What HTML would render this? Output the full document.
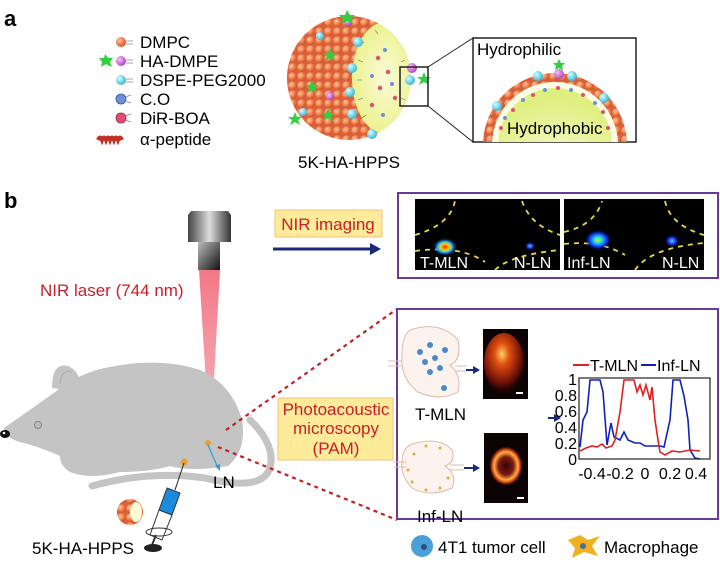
<!DOCTYPE html>
<html><head><meta charset="utf-8"><style>
html,body{margin:0;padding:0;background:#fff;}
svg{display:block;font-family:"Liberation Sans",Arial,sans-serif;}
</style></head><body>
<svg width="720" height="568" viewBox="0 0 720 568" xmlns="http://www.w3.org/2000/svg">
<defs>
<radialGradient id="ob" cx="0.35" cy="0.35" r="0.7"><stop offset="0" stop-color="#ffc7a0"/><stop offset="0.6" stop-color="#f07a45"/><stop offset="1" stop-color="#c8502a"/></radialGradient>
<radialGradient id="cy" cx="0.35" cy="0.35" r="0.7"><stop offset="0" stop-color="#d8fbff"/><stop offset="1" stop-color="#30b8d0"/></radialGradient>
<radialGradient id="pk" cx="0.35" cy="0.35" r="0.7"><stop offset="0" stop-color="#f4c0f8"/><stop offset="1" stop-color="#b040c0"/></radialGradient>
<radialGradient id="yl" cx="0.5" cy="0.5" r="0.6"><stop offset="0" stop-color="#fbfbd8"/><stop offset="1" stop-color="#e8f080"/></radialGradient>
<radialGradient id="yl2" cx="0.5" cy="0.8" r="0.7"><stop offset="0" stop-color="#fafae0"/><stop offset="1" stop-color="#dff080"/></radialGradient>
<pattern id="balls" width="9" height="9" patternUnits="userSpaceOnUse"><rect width="9" height="9" fill="#d9603a"/><circle cx="4.5" cy="4.5" r="4.3" fill="url(#ob)"/></pattern>
<radialGradient id="glow1" cx="0.5" cy="0.5" r="0.5"><stop offset="0" stop-color="#ff2000"/><stop offset="0.35" stop-color="#ffd000"/><stop offset="0.6" stop-color="#20c0ff"/><stop offset="1" stop-color="#0010a0" stop-opacity="0"/></radialGradient>
<radialGradient id="glow2" cx="0.5" cy="0.5" r="0.5"><stop offset="0" stop-color="#e0f000"/><stop offset="0.3" stop-color="#20e0e0"/><stop offset="0.65" stop-color="#1040ff"/><stop offset="1" stop-color="#0010a0" stop-opacity="0"/></radialGradient>
<radialGradient id="glow3" cx="0.5" cy="0.5" r="0.5"><stop offset="0" stop-color="#60c0ff"/><stop offset="0.6" stop-color="#1030e0"/><stop offset="1" stop-color="#0010a0" stop-opacity="0"/></radialGradient>
<radialGradient id="pa1" cx="0.45" cy="0.35" r="0.6"><stop offset="0" stop-color="#ffd060"/><stop offset="0.3" stop-color="#e05010"/><stop offset="0.8" stop-color="#701008"/><stop offset="1" stop-color="#200404"/></radialGradient>
<radialGradient id="pa2" cx="0.5" cy="0.5" r="0.5"><stop offset="0" stop-color="#300808"/><stop offset="0.45" stop-color="#801810"/><stop offset="0.7" stop-color="#ffb040"/><stop offset="0.85" stop-color="#c03010"/><stop offset="1" stop-color="#101010" stop-opacity="0"/></radialGradient>
<linearGradient id="cam" x1="0" x2="1"><stop offset="0" stop-color="#444"/><stop offset="0.5" stop-color="#ddd"/><stop offset="1" stop-color="#333"/></linearGradient>
<linearGradient id="cam2" x1="0" y1="0" x2="1" y2="1"><stop offset="0" stop-color="#bbb"/><stop offset="1" stop-color="#111"/></linearGradient>
<linearGradient id="beam" x1="0" y1="0" x2="0" y2="1"><stop offset="0" stop-color="#f06070"/><stop offset="1" stop-color="#f08090" stop-opacity="0.7"/></linearGradient>
<clipPath id="sph"><circle cx="349" cy="78" r="62"/></clipPath>
<clipPath id="zbox"><rect x="473" y="38" width="163" height="104"/></clipPath>
</defs>

<text x="4" y="26" font-size="22" font-weight="bold">a</text>
<g font-size="17">
<circle cx="121" cy="42" r="5" fill="url(#ob)"/><path d="M126 41h7M126 44h7" stroke="#888" stroke-width="0.8"/>
<text x="140" y="48">DMPC</text>
<polygon points="105,54 108,58 113,58 110,62 112,67 106,64 101,67 102,62 99,58 104,58" fill="#30d040"/>
<circle cx="121" cy="61" r="5" fill="url(#pk)"/><path d="M126 60h7M126 63h7" stroke="#888" stroke-width="0.8"/>
<text x="140" y="67">HA-DMPE</text>
<circle cx="121" cy="80" r="5" fill="url(#cy)"/><path d="M126 79h7M126 82h7" stroke="#888" stroke-width="0.8"/>
<text x="140" y="86">DSPE-PEG2000</text>
<circle cx="121" cy="99" r="5" fill="#6a90d8" stroke="#3050a0" stroke-width="0.8"/><path d="M125 97l6-2M125 101l6 2" stroke="#888" stroke-width="0.8"/>
<text x="140" y="105">C.O</text>
<circle cx="121" cy="118" r="5" fill="#e05070" stroke="#a02040" stroke-width="0.8"/><path d="M125 116l6-2M125 120l6 2" stroke="#888" stroke-width="0.8"/>
<text x="140" y="124">DiR-BOA</text>
<path d="M98 140 q2-5 4 0 q2-5 4 0 q2-5 4 0 q2-5 4 0 q2-5 4 0 q2-5 4 0" stroke="#c03020" stroke-width="4" fill="none"/>
<text x="140" y="145">α-peptide</text>
</g>

<g clip-path="url(#sph)">
<rect x="280" y="10" width="140" height="140" fill="url(#balls)"/>
<ellipse cx="385" cy="78" rx="33" ry="56" fill="url(#yl)"/>
<g stroke="#666" stroke-width="0.6">
<path d="M360 40l4 3M358 60l5 2M357 80h5M358 100l5-2M362 118l4-3M375 30l3 4M395 30l-2 4M405 60l-4 2M405 100l-4-2"/>
</g>
<g fill="#e05070"><circle cx="378" cy="58" r="2.2"/><circle cx="388" cy="72" r="2.2"/><circle cx="380" cy="88" r="2.2"/><circle cx="395" cy="98" r="2.2"/><circle cx="372" cy="105" r="2.2"/></g>
<g fill="#6a90d8"><circle cx="385" cy="50" r="2"/><circle cx="372" cy="76" r="2"/><circle cx="392" cy="84" r="2"/><circle cx="383" cy="115" r="2"/></g>
</g>
<g fill="url(#cy)"><circle cx="358" cy="42" r="5"/><circle cx="352" cy="68" r="5"/><circle cx="350" cy="92" r="5"/><circle cx="352" cy="114" r="5"/><circle cx="410" cy="80" r="5"/><circle cx="372" cy="134" r="5"/><circle cx="320" cy="36" r="4"/><circle cx="303" cy="112" r="4"/></g>
<g fill="url(#pk)"><circle cx="412" cy="68" r="5"/><circle cx="348" cy="22" r="4"/><circle cx="330" cy="96" r="4"/></g>
<g fill="#30d040">
<polygon points="347,10 350,15 355,15 351,19 353,24 347,21 342,24 343,19 339,15 345,15"/>
<polygon points="424,72 426,77 431,77 427,80 429,85 424,82 419,85 421,80 417,77 422,77"/>
<polygon points="295,112 297,117 302,117 298,120 300,125 295,122 290,125 292,120 288,117 293,117"/>
<polygon points="328,108 330,113 335,113 331,116 333,121 328,118 323,121 325,116 321,113 326,113"/>
<polygon points="330,48 332,53 337,53 333,56 335,61 330,58 325,61 327,56 323,53 328,53"/>
<polygon points="312,80 314,85 319,85 315,88 317,93 312,90 307,93 309,88 305,85 310,85"/>
</g>
<text x="298" y="168" font-size="17">5K-HA-HPPS</text>

<rect x="400" y="67" width="28" height="39" fill="none" stroke="#222" stroke-width="1.5"/>
<line x1="428" y1="67" x2="473" y2="38" stroke="#222" stroke-width="1"/>
<line x1="428" y1="106" x2="473" y2="142" stroke="#222" stroke-width="1"/>
<rect x="473" y="38" width="163" height="104" fill="#fff" stroke="#222" stroke-width="1.5"/>
<g clip-path="url(#zbox)">
<circle cx="555" cy="145" r="72" fill="url(#balls)"/>
<circle cx="555" cy="145" r="63" fill="#fdfde8"/>
<circle cx="555" cy="145" r="57" fill="url(#yl2)"/>
<g fill="#e05070"><circle cx="513" cy="110" r="2"/><circle cx="533" cy="95" r="2"/><circle cx="558" cy="88" r="2"/><circle cx="583" cy="95" r="2"/><circle cx="603" cy="112" r="2"/><circle cx="501" cy="128" r="2"/><circle cx="608" cy="128" r="2"/></g>
<g fill="#6a90d8"><circle cx="523" cy="100" r="2"/><circle cx="545" cy="90" r="2"/><circle cx="571" cy="90" r="2"/><circle cx="595" cy="103" r="2"/><circle cx="505" cy="118" r="2"/></g>
<g fill="url(#cy)"><circle cx="538" cy="76" r="5"/><circle cx="497" cy="106" r="5"/><circle cx="572" cy="76" r="5"/><circle cx="604" cy="98" r="5"/></g>
<circle cx="559" cy="74" r="5" fill="url(#pk)"/>
</g>
<polygon points="559,59 561,63 565,63 562,66 563,70 559,68 555,70 556,66 553,63 557,63" fill="#30d040"/>
<text x="477" y="55" font-size="17">Hydrophilic</text>
<text x="507" y="134" font-size="17">Hydrophobic</text>

<text x="4" y="208" font-size="22" font-weight="bold">b</text>
<polygon points="199,270 220,270 211,432 209,432" fill="url(#beam)" opacity="0.85"/>
<path d="M191 211h37l3 4v27h-43v-27z" fill="url(#cam)"/>
<rect x="198" y="242" width="22" height="28" fill="url(#cam2)"/>
<text x="40" y="296" font-size="17" fill="#c8202a">NIR laser (744 nm)</text>
<rect x="275" y="210" width="107" height="27" fill="#fdeb9a" stroke="#f0c080"/>
<text x="328" y="230" font-size="17" fill="#c8202a" text-anchor="middle">NIR imaging</text>
<line x1="273" y1="249" x2="372" y2="249" stroke="#1a2a7a" stroke-width="3"/>
<polygon points="370,243 381,249 370,255" fill="#1a2a7a"/>

<rect x="398" y="193" width="320" height="85" fill="#fff" stroke="#6a3a9a" stroke-width="2"/>
<rect x="415" y="199" width="145" height="71" fill="#000"/>
<rect x="564" y="199" width="140" height="71" fill="#000"/>
<g stroke="#e8d84a" stroke-width="1.8" stroke-dasharray="5,5" fill="none">
<path d="M415 235 Q450 225 455 201"/><path d="M415 251 Q460 245 485 262"/><path d="M495 270 Q510 255 560 250"/><path d="M522 201 Q530 225 560 235"/>
<path d="M564 232 Q595 225 602 201"/><path d="M564 244 Q600 240 625 255"/><path d="M635 270 Q650 248 704 243"/><path d="M665 201 Q670 225 704 235"/>
</g>
<ellipse cx="445" cy="247" rx="12" ry="9" fill="url(#glow1)"/>
<ellipse cx="530" cy="246" rx="5" ry="4" fill="url(#glow3)"/>
<ellipse cx="598" cy="240" rx="13" ry="10" fill="url(#glow2)"/>
<ellipse cx="672" cy="241" rx="7" ry="6" fill="url(#glow3)"/>
<g font-size="16" fill="#fff"><text x="420" y="268">T-MLN</text><text x="514" y="268">N-LN</text><text x="567" y="268">Inf-LN</text><text x="662" y="268">N-LN</text></g>

<g fill="#c4c4c4">
<path d="M4 428 Q30 410 55 392 Q80 372 110 367 Q160 357 200 370 Q232 384 242 420 Q247 450 228 466 Q190 472 170 466 Q150 472 120 472 Q90 480 70 472 Q60 466 60 456 Q40 447 20 442 Q5 438 4 428Z"/>
<path d="M52 388 Q52 362 68 366 Q82 372 80 392Z"/>
</g>
<path d="M92 486 Q150 470 205 478 Q262 492 270 468 Q276 445 250 420" stroke="#c4c4c4" stroke-width="7" fill="none" stroke-linecap="round"/>
<path d="M60 384 Q62 368 72 372" stroke="#aaa" fill="none"/>
<circle cx="38" cy="425" r="3.5" fill="#bbb" stroke="#888"/>
<ellipse cx="5" cy="434" rx="5" ry="4" fill="#111"/><circle cx="4" cy="433" r="1.3" fill="#fff"/>
<circle cx="208" cy="443" r="3" fill="#e8a030"/>
<circle cx="184" cy="462" r="3.5" fill="#e8a030"/>
<path d="M208 445 L218 468" stroke="#30a0d0" stroke-width="1.2"/>
<polygon points="215,466 220,471 220,464" fill="#30a0d0"/>
<text x="213" y="488" font-size="17">LN</text>
<line x1="184" y1="463" x2="175" y2="490" stroke="#222" stroke-width="1"/>
<polygon points="167,488 180,493 172,515 159,510" fill="#1a8ce0" stroke="#333"/>
<polygon points="159,510 172,515 162,540 150,535" fill="#fff" stroke="#333"/>
<ellipse cx="159" cy="532" rx="13" ry="4" fill="none" stroke="#333"/>
<line x1="156" y1="535" x2="152" y2="545" stroke="#333" stroke-width="2"/>
<ellipse cx="153" cy="548" rx="9" ry="4" fill="#222"/>
<circle cx="130" cy="512" r="13" fill="url(#balls)"/>
<ellipse cx="136" cy="512" rx="6" ry="10" fill="#fbfbd8"/>
<text x="32" y="554" font-size="17">5K-HA-HPPS</text>

<line x1="226" y1="430" x2="397" y2="309" stroke="#c02028" stroke-width="2.2" stroke-dasharray="4,4"/>
<line x1="218" y1="447" x2="397" y2="520" stroke="#c02028" stroke-width="2.2" stroke-dasharray="4,4"/>
<rect x="278" y="398" width="115" height="62" fill="#fdeb9a" stroke="#f0c080"/>
<g font-size="17" fill="#c8202a" text-anchor="middle"><text x="336" y="415">Photoacoustic</text><text x="336" y="434">microscopy</text><text x="336" y="454">(PAM)</text></g>

<rect x="397" y="309" width="321" height="210" fill="#fff" stroke="#6a3a9a" stroke-width="2"/>
<path d="M410 330 Q440 320 458 340 Q462 360 450 365 Q462 375 458 392 Q440 402 418 392 Q400 378 402 355 Q402 336 410 330Z" fill="#fdf3ee" stroke="#e0b8a8"/>
<path d="M388 361h14M388 366h14M455 366h12M455 371h12" stroke="#e0b8a8"/>
<g fill="#4a8ac8"><circle cx="430" cy="345" r="3"/><circle cx="425" cy="362" r="3"/><circle cx="435" cy="358" r="3"/><circle cx="440" cy="368" r="3"/><circle cx="430" cy="372" r="3"/><circle cx="420" cy="352" r="3"/><circle cx="444" cy="388" r="3"/><circle cx="445" cy="350" r="3"/></g>
<text x="415" y="420" font-size="17">T-MLN</text>
<path d="M412 444 Q440 436 452 450 Q456 462 445 466 Q458 475 452 488 Q430 498 412 488 Q400 475 402 462 Q402 448 412 444Z" fill="#fdf3ee" stroke="#e0b8a8"/>
<path d="M394 462h12M394 467h12M450 465h14M450 470h14" stroke="#e0b8a8"/>
<g fill="#d8b040"><circle cx="414" cy="454" r="1.5"/><circle cx="426" cy="446" r="1.5"/><circle cx="440" cy="448" r="1.5"/><circle cx="408" cy="470" r="1.5"/><circle cx="412" cy="482" r="1.5"/><circle cx="426" cy="490" r="1.5"/><circle cx="440" cy="488" r="1.5"/><circle cx="448" cy="478" r="1.5"/></g>
<text x="417" y="522" font-size="17">Inf-LN</text>
<rect x="483" y="329" width="45" height="70" fill="#0c0404"/>
<ellipse cx="504" cy="363" rx="20" ry="30" fill="url(#pa1)"/>
<rect x="516" y="392" width="7" height="2" fill="#fff"/>
<rect x="484" y="433" width="44" height="70" fill="#0c0404"/>
<ellipse cx="506" cy="466" rx="17" ry="20" fill="url(#pa2)"/>
<rect x="517" y="497" width="7" height="2" fill="#fff"/>
<g stroke="#1a2a7a" stroke-width="2"><line x1="466" y1="370" x2="474" y2="370"/><line x1="464" y1="468" x2="474" y2="468"/><line x1="548" y1="418" x2="555" y2="418"/></g>
<g fill="#1a2a7a"><polygon points="473,366 480,370 473,374"/><polygon points="473,464 480,468 473,472"/><polygon points="554,414 561,418 554,422"/></g>

<g font-size="16">
<line x1="573" y1="365" x2="589" y2="365" stroke="#e02020" stroke-width="2"/><text x="590" y="371">T-MLN</text>
<line x1="641" y1="365" x2="656" y2="365" stroke="#1020c0" stroke-width="2"/><text x="657" y="371">Inf-LN</text>
<g text-anchor="end"><text x="577" y="385">1</text><text x="577" y="401">0.8</text><text x="577" y="417">0.6</text><text x="577" y="433">0.4</text><text x="577" y="449">0.2</text><text x="577" y="465">0</text></g>
<g text-anchor="middle"><text x="592" y="479">-0.4</text><text x="620" y="479">-0.2</text><text x="645" y="479">0</text><text x="670" y="479">0.2</text><text x="696" y="479">0.4</text></g>
</g>
<polyline fill="none" stroke="#1020c0" stroke-width="1.6" points="580,447 583,420 587,412 590,380 600,380 603,392 607,445 611,423 614,437 620,440 624,432 628,440 635,443 640,443 645,446 660,446 664,447 670,420 673,380 680,380 684,396 688,420 690,450 695,458 700,459"/>
<polyline fill="none" stroke="#e02020" stroke-width="1.6" points="580,451 586,448 592,446 597,447 602,444 606,448 612,446 615,440 620,412 624,380 634,380 637,392 640,385 643,395 646,385 650,400 652,387 655,420 658,440 660,452 665,455 672,451 680,452 690,450 700,451"/>
<rect x="579" y="378" width="131" height="81" fill="none" stroke="#222" stroke-width="1.2"/>

<circle cx="422" cy="546" r="11" fill="#4aa0d8"/><circle cx="424" cy="547" r="3" fill="#2a5080"/>
<text x="438" y="553" font-size="17">4T1 tumor cell</text>
<polygon points="568,540 580,535 588,540 600,536 592,546 598,556 584,552 572,558 575,548" fill="#f0b020"/>
<circle cx="583" cy="546" r="3" fill="#4a7090"/>
<text x="604" y="553" font-size="17">Macrophage</text>
</svg>
</body></html>
